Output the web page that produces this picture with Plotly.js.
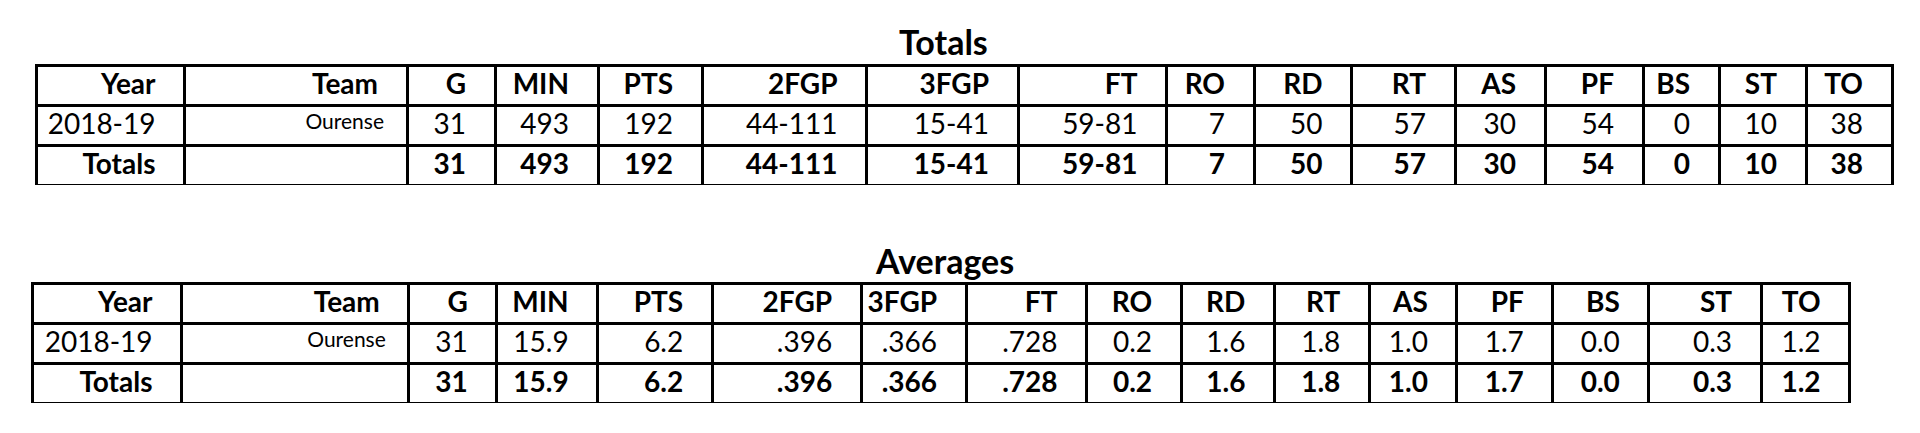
<!DOCTYPE html>
<html>
<head>
<meta charset="utf-8">
<script src="https://cdn.plot.ly/plotly-3.0.1.min.js"></script>
<style>html,body{margin:0;padding:0;background:#fff;}#chart{width:1920px;height:433px;}</style>
</head>
<body>
<div id="chart"></div>
<script>
// ---- data ----
var columns = ['Year','Team','G','MIN','PTS','2FGP','3FGP','FT','RO','RD','RT','AS','PF','BS','ST','TO'];
var seasonTotals = ['2018-19','Ourense','31','493','192','44-111','15-41','59-81','7','50','57','30','54','0','10','38'];
var careerTotals = ['Totals','','31','493','192','44-111','15-41','59-81','7','50','57','30','54','0','10','38'];
var seasonAverages = ['2018-19','Ourense','31','15.9','6.2','.396','.366','.728','0.2','1.6','1.8','1.0','1.7','0.0','0.3','1.2'];
var careerAverages = ['Totals','','31','15.9','6.2','.396','.366','.728','0.2','1.6','1.8','1.0','1.7','0.0','0.3','1.2'];
var tableTitles = ['Totals','Averages'];

// ---- layout / style ----
var W = 1920, H = 433;
var PAD = '\u2800';
var FONT = 'Lato, "DejaVu Sans Mono", Calibri, sans-serif';
var TITLE_FONT = 'Lato, Calibri, sans-serif';
var totalsWidths = [148.5,222.5,88,103,104,164.5,151.5,148.5,87.5,97.5,103.5,90,98,76,87,86];
var averagesWidths = [149,227.4,88,101,114.6,149,105,120.5,94.6,93.4,95,87.6,96,96,112.3,88.6];

function makeTable(rowA, rowB, widths, x0, x1, yTop, yBot) {
  var cellValues = columns.map(function (c, i) {
    return [rowA[i] + PAD, rowB[i] === '' ? '' : rowB[i] + PAD];
  });
  var sizes = columns.map(function (c, i) { return i === 1 ? [21, 21] : [28, 28]; });
  var weights = columns.map(function () { return [400, 700]; });
  return {
    type: 'table',
    domain: {x: [x0 / W, x1 / W], y: [1 - yBot / H, 1 - yTop / H]},
    columnwidth: widths,
    header: {
      values: columns.map(function (c) { return c + PAD; }),
      align: 'right',
      height: 40,
      fill: {color: '#ffffff'},
      line: {color: '#000000', width: 3},
      font: {family: FONT, size: 28, color: '#000000', weight: 700}
    },
    cells: {
      values: cellValues,
      align: 'right',
      height: 40,
      fill: {color: '#ffffff'},
      line: {color: '#000000', width: 3},
      font: {family: FONT, size: sizes, color: '#000000', weight: weights}
    }
  };
}

var data = [
  makeTable(seasonTotals, careerTotals, totalsWidths, 36, 1892, 65, 186),
  makeTable(seasonAverages, careerAverages, averagesWidths, 32.6, 1850.3, 283, 404)
];

var layout = {
  width: W, height: H,
  margin: {l: 0, r: 0, t: 0, b: 0},
  paper_bgcolor: '#ffffff',
  plot_bgcolor: '#ffffff',
  showlegend: false,
  annotations: [
    {text: tableTitles[0], xref: 'paper', yref: 'paper', x: 943 / W, y: 1 - 41 / H,
     xanchor: 'center', yanchor: 'middle', showarrow: false,
     font: {family: TITLE_FONT, size: 34, color: '#000000', weight: 700}},
    {text: tableTitles[1], xref: 'paper', yref: 'paper', x: 944 / W, y: 1 - 260 / H,
     xanchor: 'center', yanchor: 'middle', showarrow: false,
     font: {family: TITLE_FONT, size: 34, color: '#000000', weight: 700}}
  ]
};

Plotly.newPlot('chart', data, layout, {staticPlot: true, displayModeBar: false});
</script>
</body>
</html>
